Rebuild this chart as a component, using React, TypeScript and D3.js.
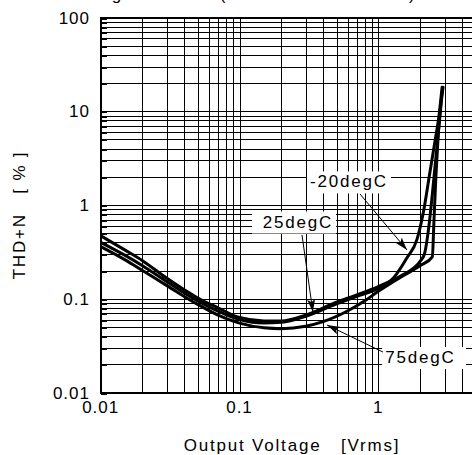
import React from 'react';
import * as d3 from 'd3';

const W = 472;
const H = 455;

const xDomain = [0.01, 10];
const yDomain = [0.01, 100];
const xTickValues = [0.01, 0.1, 1];
const xTickLabels = ['0.01', '0.1', '1'];
const yTickValues = [0.01, 0.1, 1, 10, 100];
const yTickLabels = ['0.01', '0.1', '1', '10', '100'];

// -20degC
const voltsM20 = [0.01, 0.015, 0.02, 0.03, 0.05, 0.07, 0.1, 0.15, 0.2, 0.3, 0.5, 0.7, 1, 1.3, 1.6, 1.9, 2.1, 2.35, 2.55, 2.75, 2.88];
const thdM20 = [0.4, 0.29, 0.225, 0.152, 0.095, 0.074, 0.06, 0.055, 0.056, 0.065, 0.088, 0.106, 0.13, 0.17, 0.27, 0.43, 0.8, 2.2, 4.6, 9.5, 18];
// 25degC
const volts25 = [0.01, 0.015, 0.02, 0.03, 0.05, 0.07, 0.1, 0.15, 0.2, 0.3, 0.5, 0.7, 1, 1.5, 2, 2.15, 2.3, 2.45, 2.6, 2.75, 2.9];
const thd25 = [0.47, 0.33, 0.255, 0.165, 0.102, 0.08, 0.063, 0.058, 0.058, 0.067, 0.092, 0.11, 0.135, 0.18, 0.25, 0.3, 0.55, 1.3, 3.2, 7.5, 17];
// 75degC
const volts75 = [0.01, 0.015, 0.02, 0.03, 0.05, 0.07, 0.1, 0.15, 0.2, 0.3, 0.4, 0.6, 0.8, 1, 1.5, 2, 2.45, 2.52, 2.6, 2.7, 2.82, 2.93];
const thd75 = [0.36, 0.26, 0.2, 0.138, 0.087, 0.067, 0.055, 0.049, 0.048, 0.051, 0.057, 0.074, 0.095, 0.12, 0.175, 0.225, 0.28, 0.7, 2.0, 5.5, 12, 18];

const seriesNames = ['-20degC', '25degC', '75degC'];

// annotation anchors in data space (label position, arrow tail, arrow tip)
const annLabelX = [0.322, 0.472, 1.12];
const annLabelY = [1.54, 0.575, 0.0206];
const annAnchor = ['start', 'end', 'start'];
const annTailX = [0.738, 0.282, 1.081];
const annTailY = [1.31, 0.479, 0.027];
const annTipX = [1.61, 0.338, 0.427];
const annTipY = [0.331, 0.072, 0.0525];

const FONT = '"Liberation Sans", Arial, sans-serif';

export default function App() {
  const x0 = 100.7;
  const xR = x0 + 3 * 138.8;
  const yTop = 17.5;
  const yBot = 392.5;
  const x = d3.scaleLog().domain(xDomain).range([x0, xR]);
  const y = d3.scaleLog().domain(yDomain).range([yBot, yTop]);

  const gridX: number[] = [];
  for (let e = -2; e <= 0; e++) for (let k = 1; k <= 9; k++) gridX.push(k * Math.pow(10, e));
  gridX.push(10);
  const gridY: number[] = [];
  for (let e = -2; e <= 1; e++) for (let k = 1; k <= 9; k++) gridY.push(k * Math.pow(10, e));
  gridY.push(100);

  const line = d3
    .line<[number, number]>()
    .x((d) => x(d[0]))
    .y((d) => y(d[1]))
    .curve(d3.curveMonotoneX);

  const series: [number, number][][] = [
    voltsM20.map((v, i) => [v, thdM20[i]] as [number, number]),
    volts25.map((v, i) => [v, thd25[i]] as [number, number]),
    volts75.map((v, i) => [v, thd75[i]] as [number, number]),
  ];

  const snap = (v: number) => Math.round(v) + 0.5;

  const arrowHead = (tx: number, ty: number, fx: number, fy: number) => {
    const dx = tx - fx;
    const dy = ty - fy;
    const len = Math.hypot(dx, dy);
    const ux = dx / len;
    const uy = dy / len;
    const L = 13;
    const Wd = 4;
    const bx = tx - ux * L;
    const by = ty - uy * L;
    return `M${tx},${ty}L${bx - uy * Wd},${by + ux * Wd}L${bx + ux * 3},${by + uy * 3}L${bx + uy * Wd},${by - ux * Wd}Z`;
  };

  return (
    <svg
      width={W}
      height={H}
      style={{ position: 'absolute', left: 0, top: 0, background: '#fff' }}
      fontFamily={FONT}
    >
      <rect x={0} y={0} width={W} height={H} fill="#fff" />
      <defs>
        <clipPath id="plot">
          <rect x={x0} y={yTop} width={xR - x0} height={yBot - yTop} />
        </clipPath>
      </defs>
      {/* clipped title (only descenders visible) */}
      <text x={65} y={-0.5} fontSize={17} letterSpacing={1.8} fill="#000" style={{ whiteSpace: 'pre' }}>
        {'Voltage  THD+N (RL=32ohm   f=1kHz)'}
      </text>
      <g shapeRendering="crispEdges">
        {gridX.map((v, i) => (
          <line key={'gx' + i} x1={snap(x(v))} x2={snap(x(v))} y1={yTop} y2={yBot} stroke="#000" strokeWidth={1} />
        ))}
        {gridY.map((v, i) => (
          <line key={'gy' + i} x1={x0} x2={xR} y1={snap(y(v))} y2={snap(y(v))} stroke="#000" strokeWidth={1} />
        ))}
        {gridY.map((v, i) => (
          <line key={'ty' + i} x1={x0} x2={x0 + 6} y1={snap(y(v))} y2={snap(y(v))} stroke="#000" strokeWidth={2} />
        ))}
        <rect x={x0} y={yTop} width={xR - x0 + 20} height={yBot - yTop} fill="none" stroke="#000" strokeWidth={2} />
      </g>
      <g clipPath="url(#plot)">
        {series.map((s, i) => (
          <path key={'s' + i} d={line(s) || ''} fill="none" stroke="#000" strokeWidth={3} strokeLinejoin="round" strokeLinecap="round" />
        ))}
      </g>
      {/* annotations */}
      {seriesNames.map((name, i) => {
        const lx = x(annLabelX[i]);
        const ly = y(annLabelY[i]);
        const bw = 84;
        const bxp = annAnchor[i] === 'end' ? lx - bw + 3 : lx - 3;
        const tx = x(annTipX[i]);
        const ty = y(annTipY[i]);
        const fx = x(annTailX[i]);
        const fy = y(annTailY[i]);
        return (
          <g key={'a' + i}>
            <rect x={bxp} y={ly - 16} width={bw} height={22} fill="#fff" />
            <line x1={fx} y1={fy} x2={tx} y2={ty} stroke="#000" strokeWidth={1} />
            <path d={arrowHead(tx, ty, fx, fy)} fill="#000" />
            <text x={lx} y={ly} fontSize={17} letterSpacing={1.8} textAnchor={annAnchor[i]} fill="#000">
              {name}
            </text>
          </g>
        );
      })}
      {/* y ticks */}
      {yTickValues.map((v, i) => (
        <text key={'yl' + i} x={90} y={y(v)} dy="0.36em" fontSize={17} letterSpacing={1} textAnchor="end" fill="#000">
          {yTickLabels[i]}
        </text>
      ))}
      {xTickValues.map((v, i) => (
        <text key={'xl' + i} x={x(v)} y={413} fontSize={17} letterSpacing={1} textAnchor="middle" fill="#000">
          {xTickLabels[i]}
        </text>
      ))}
      <text x={292} y={451} fontSize={17} letterSpacing={1.8} textAnchor="middle" fill="#000" style={{ whiteSpace: 'pre' }}>
        {'Output Voltage   [Vrms]'}
      </text>
      <text
        x={25}
        y={215}
        fontSize={17}
        letterSpacing={1.8}
        textAnchor="middle"
        fill="#000"
        transform="rotate(-90 25 215)"
        style={{ whiteSpace: 'pre' }}
      >
        {'THD+N   [ % ]'}
      </text>
    </svg>
  );
}
